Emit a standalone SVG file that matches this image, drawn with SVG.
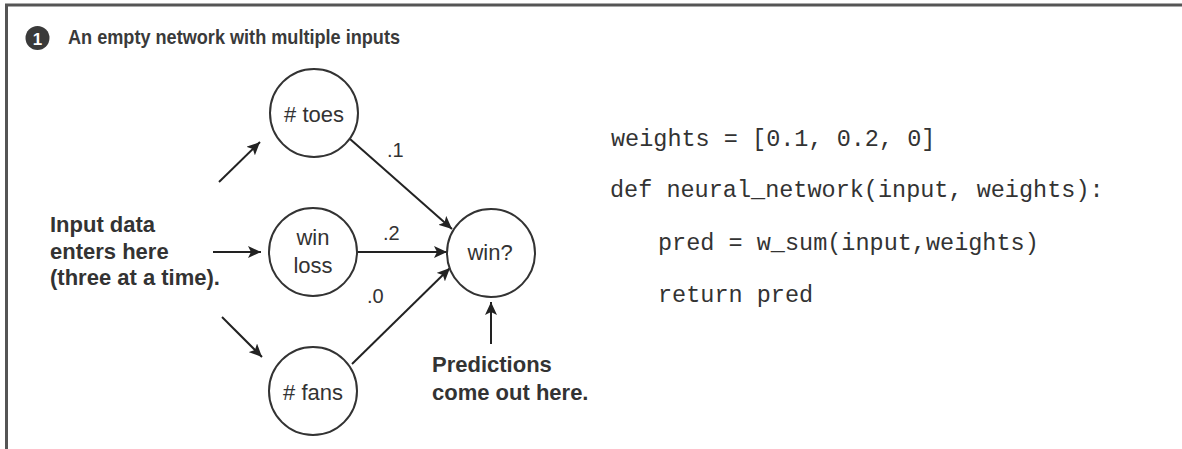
<svg xmlns="http://www.w3.org/2000/svg" width="1182" height="449" viewBox="0 0 1182 449">
<defs>
<style>
.frame{stroke:#555;stroke-width:3;fill:none}
.node{fill:#fff;stroke:#333;stroke-width:2}
.nt{font-family:"Liberation Sans",Arial,sans-serif;font-size:22px;fill:#333;text-anchor:middle}
.lbl{font-family:"Liberation Sans",Arial,sans-serif;font-size:20px;fill:#333}
.note{font-family:"Liberation Sans",Arial,sans-serif;font-size:22px;font-weight:bold;fill:#333}
.title{font-family:"Liberation Sans",Arial,sans-serif;font-size:21px;font-weight:bold;fill:#3a3a3a}
.code{font-family:"Liberation Mono","Courier New",monospace;font-size:23.5px;fill:#333}
.edge{stroke:#222;stroke-width:2;fill:none;marker-end:url(#ah)}
</style>
<marker id="ah" markerUnits="userSpaceOnUse" markerWidth="14" markerHeight="12" refX="13" refY="6" orient="auto">
<path d="M0,0 L13,6 L0,12 L3,6 z" fill="#222"/>
</marker>
</defs>
<rect width="1182" height="449" fill="#fff"/>
<path class="frame" d="M6.5,449 L6.5,5 L1182,5"/>
<g id="title">
<circle cx="37.5" cy="38" r="12" fill="#3a3a3a"/>
<text x="37.5" y="44.5" font-family="Liberation Sans,Arial,sans-serif" font-size="17" font-weight="bold" fill="#fff" text-anchor="middle">1</text>
<text class="title" x="68" y="44" textLength="332" lengthAdjust="spacingAndGlyphs">An empty network with multiple inputs</text>
</g>
<g id="connectors">
<line class="edge" x1="219" y1="182" x2="260" y2="142"/>
<line class="edge" x1="213" y1="252" x2="261" y2="252"/>
<line class="edge" x1="222" y1="317" x2="262" y2="357"/>
<line class="edge" x1="350" y1="139" x2="452" y2="229"/>
<line class="edge" x1="357" y1="252" x2="447" y2="252"/>
<line class="edge" x1="352" y1="364" x2="450" y2="268"/>
<line class="edge" x1="491" y1="344" x2="491" y2="302"/>
</g>
<g id="weights">
<text class="lbl" x="387" y="157">.1</text>
<text class="lbl" x="383" y="240">.2</text>
<text class="lbl" x="367" y="303">.0</text>
</g>
<g id="node-toes">
<circle class="node" cx="314" cy="113" r="44"/>
<text class="nt" x="314" y="122"># toes</text>
</g>
<g id="node-winloss">
<circle class="node" cx="313" cy="252" r="44"/>
<text class="nt" x="313" y="245">win</text>
<text class="nt" x="313" y="273">loss</text>
</g>
<g id="node-fans">
<circle class="node" cx="313" cy="391" r="44"/>
<text class="nt" x="313" y="400"># fans</text>
</g>
<g id="node-win">
<circle class="node" cx="491" cy="253" r="44"/>
<text class="nt" x="490" y="260">win?</text>
</g>
<g id="note-input">
<text class="note" x="50" y="232">Input data</text>
<text class="note" x="50" y="259">enters here</text>
<text class="note" x="50" y="285">(three at a time).</text>
</g>
<g id="note-output">
<text class="note" x="432" y="372">Predictions</text>
<text class="note" x="432" y="400">come out here.</text>
</g>
<g id="code">
<text class="code" x="611" y="146">weights = [0.1, 0.2, 0]</text>
<text class="code" x="610" y="197">def neural_network(input, weights):</text>
<text class="code" x="658" y="250">pred = w_sum(input,weights)</text>
<text class="code" x="658" y="302">return pred</text>
</g>
</svg>
